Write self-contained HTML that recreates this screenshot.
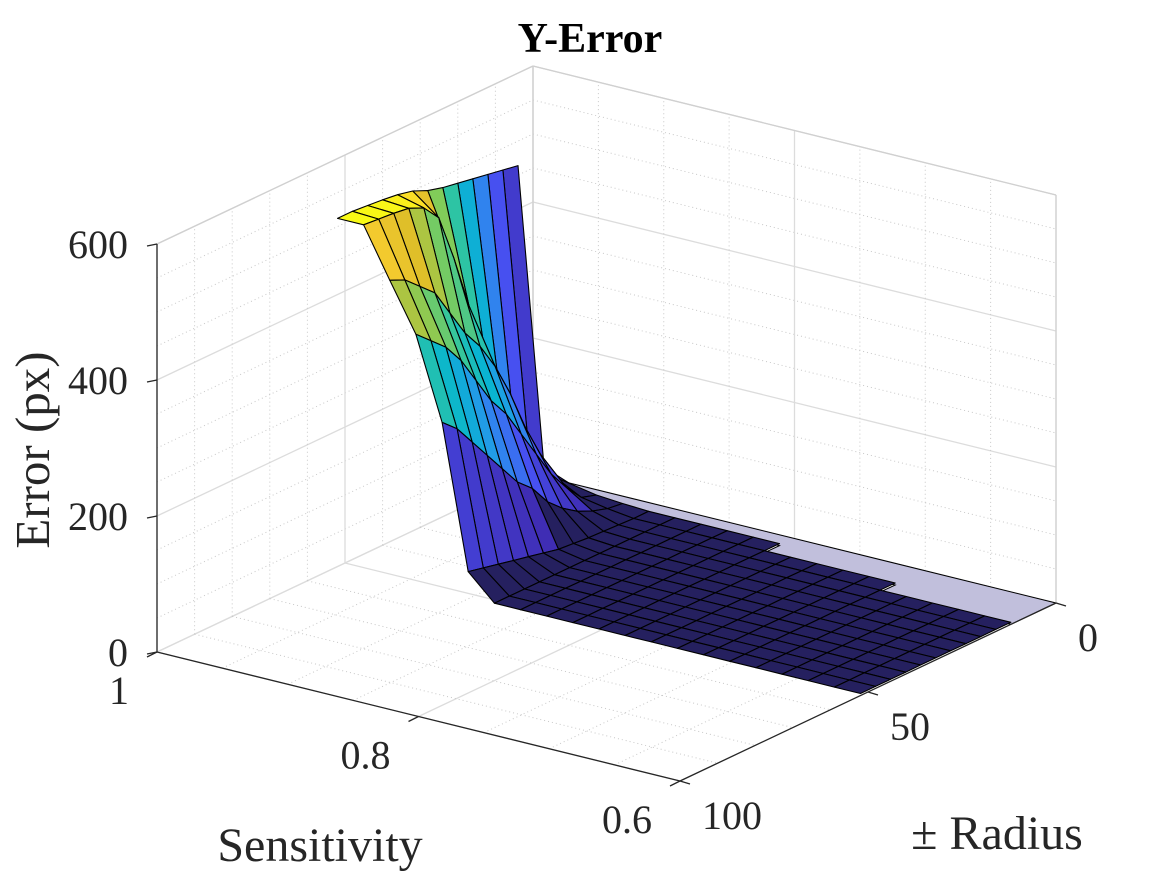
<!DOCTYPE html>
<html><head><meta charset="utf-8"><style>
html,body{margin:0;padding:0;background:#fff;}
svg{display:block;font-family:"Liberation Serif",serif;}
</style></head><body>
<svg id="chart" width="1167" height="875" viewBox="0 0 1167 875" xmlns="http://www.w3.org/2000/svg">
<rect width="1167" height="875" fill="#fff"/>
<g id="grid"></g>
<g id="surf"></g>
<g id="axes"></g>
<text x="590" y="52" text-anchor="middle" font-size="42" font-weight="bold" fill="#000">Y-Error</text>
<text transform="translate(49,450) rotate(-90)" text-anchor="middle" font-size="49" fill="#262626">Error (px)</text>
<text x="320" y="861" text-anchor="middle" font-size="48" fill="#262626">Sensitivity</text>
<text x="997" y="849" text-anchor="middle" font-size="48" fill="#262626">± Radius</text>
</svg>
<script>
const sensValues = [0.60,0.62,0.64,0.66,0.68,0.70,0.72,0.74,0.76,0.78,0.80,0.82,0.84,0.86,0.88,0.90,0.92,0.94,0.96,0.98,1.00];
const radiusValues = [0,4,8,12,16,20,24,28,32,36,40,44,48,52,56];
const n = null;
const errRow060 = [n,n,n,3,3,3,3,3,3,3,3,3,3,3,3];
const errRow062 = [n,n,n,3,3,3,3,3,3,3,3,3,3,3,n];
const errRow064 = [n,n,n,3,3,3,3,3,3,3,3,3,3,3,3];
const errRow066 = [n,n,n,3,3,3,3,3,3,3,3,3,3,3,n];
const errRow068 = [n,n,n,3,3,3,3,3,3,3,3,3,3,3,n];
const errRow070 = [n,n,3,3,3,3,3,3,3,3,3,3,3,3,n];
const errRow072 = [n,n,3,3,3,3,3,3,3,3,3,3,3,3,n];
const errRow074 = [n,n,3,3,3,3,3,3,3,3,3,3,3,3,n];
const errRow076 = [n,n,3,3,3,3,3,3,3,3,3,3,3,3,n];
const errRow078 = [n,n,3,3,3,3,3,3,3,3,3,3,3,3,n];
const errRow080 = [n,3,3,3,3,3,3,3,3,3,3,3,3,3,n];
const errRow082 = [n,3,3,3,3,3,3,3,3,3,3,3,3,3,n];
const errRow084 = [n,3,3,3,3,3,3,3,3,3,3,3,3,3,n];
const errRow086 = [n,3,3,3,3,3,3,3,3,3,3,3,3,3,n];
const errRow088 = [n,3,3,3,3,3,3,3,3,3,3,3,3,3,n];
const errRow090 = [n,3,3,4,5,6,8,10,15,20,25,30,35,40,n];
const errRow092 = [n,5,8,15,25,40,60,90,110,140,170,200,230,250,n];
const errRow094 = [n,8,15,40,70,110,150,190,220,260,300,330,350,370,n];
const errRow096 = [n,15,35,80,130,190,240,280,310,350,390,410,430,440,n];
const errRow098 = [n,30,60,110,180,250,320,400,470,495,505,508,510,512,n];
const errRow100 = [n,464,468,472,476,480,484,490,500,505,508,510,512,512,n];
const errRows = [errRow060,errRow062,errRow064,errRow066,errRow068,errRow070,errRow072,errRow074,errRow076,errRow078,errRow080,errRow082,errRow084,errRow086,errRow088,errRow090,errRow092,errRow094,errRow096,errRow098,errRow100];
const zTicks = [0,200,400,600];
const zTickLabels = ["0","200","400","600"];
const sTicks = [1,0.8,0.6];
const sTickLabels = ["1","0.8","0.6"];
const rTicks = [0,50,100];
const rTickLabels = ["0","50","100"];

const NS = "http://www.w3.org/2000/svg";
const ORG = [157,652];
function P(s,r,z){
  const a=(1-s)/0.4, b=(100-r)/100;
  return [ORG[0]+a*523+b*376, ORG[1]+a*129-b*178-z*0.68];
}
function mk(tag,parent){const e=document.createElementNS(NS,tag);parent.appendChild(e);return e;}
function pts(arr){return arr.map(p=>p[0].toFixed(1)+","+p[1].toFixed(1)).join(" ");}
function line(g,p1,p2,stroke,w,dash){const l=mk("line",g);l.setAttribute("x1",p1[0]);l.setAttribute("y1",p1[1]);l.setAttribute("x2",p2[0]);l.setAttribute("y2",p2[1]);l.setAttribute("stroke",stroke);l.setAttribute("stroke-width",w);if(dash)l.setAttribute("stroke-dasharray",dash);return l;}

const grid=document.getElementById("grid");
const minorC="#c8c8c8", majorC="#dcdcdc";
for(let z=0;z<=600;z+=50){
  const maj=z%200===0;
  const l1=line(grid,P(1,100,z),P(1,0,z),maj?majorC:minorC,maj?1.3:1,maj?null:"1,3");
  
  
  const l2=line(grid,P(1,0,z),P(0.6,0,z),maj?majorC:minorC,maj?1.3:1,maj?null:"1,3");
  
  
}
for(let k=0;k<=8;k++){
  const s=1-k*0.05, maj=(k%4===0);
  const l1=line(grid,P(s,100,0),P(s,0,0),maj?majorC:minorC,maj?1.3:1,maj?null:"1,3");
  
  
  const l2=line(grid,P(s,0,0),P(s,0,600),maj?majorC:minorC,maj?1.3:1,maj?null:"1,3");
  
  
}
for(let r=0;r<=100;r+=10){
  const maj=r%50===0;
  const l1=line(grid,P(1,r,0),P(0.6,r,0),maj?majorC:minorC,maj?1.3:1,maj?null:"1,3");
  
  
  const l2=line(grid,P(1,r,0),P(1,r,600),maj?majorC:minorC,maj?1.3:1,maj?null:"1,3");
  
  
}
[[P(1,100,600),P(1,0,600)],[P(1,0,600),P(0.6,0,600)],[P(1,0,0),P(1,0,600)],[P(0.6,0,0),P(0.6,0,600)]].forEach(e=>{
  const l=line(grid,e[0],e[1],"#d0d0d0",1.3);
  
  
});

const par=[[0.2422,0.1504,0.6603],[0.2810,0.3228,0.9579],[0.1540,0.5902,0.9218],[0.0297,0.7082,0.8163],[0.1938,0.7758,0.6251],[0.5044,0.7993,0.3480],[0.8634,0.7406,0.1596],[0.9892,0.8136,0.1885],[0.9769,0.9839,0.0805]];
function cmap(t){t=Math.max(0,Math.min(1,t))*(par.length-1);const i=Math.min(par.length-2,Math.floor(t)),f=t-i;
  const c=par[i].map((v,k)=>Math.round(255*(v+(par[i+1][k]-v)*f)));return "rgb("+c.join(",")+")";}
const zmax=512;

const surf=document.getElementById("surf");
const lav=mk("polygon",surf);
lav.setAttribute("points",pts([P(0.6,0,0),P(0.98,0,0),P(0.98,4,0),P(0.8,4,0),P(0.8,8,0),P(0.7,8,0),P(0.7,12,0),P(0.6,12,0)]));
lav.setAttribute("fill","#c1bfdc");lav.setAttribute("stroke","#000");lav.setAttribute("stroke-width","1");



const quads=[];
for(let i=0;i<sensValues.length-1;i++){
  for(let j=0;j<radiusValues.length-1;j++){
    const z00=errRows[i][j],z01=errRows[i][j+1],z10=errRows[i+1][j],z11=errRows[i+1][j+1];
    if(z00===null||z01===null||z10===null||z11===null) continue;
    const s0=sensValues[i],s1=sensValues[i+1],r0=radiusValues[j],r1=radiusValues[j+1];
    const depth=(s0+s1)/2/0.4 - (r0+r1)/2/100;
    quads.push({i,j,depth,p:[P(s0,r0,z00),P(s0,r1,z01),P(s1,r1,z11),P(s1,r0,z10)],c:Math.min(z00,z01)});
  }
}
quads.sort((a,b)=>b.depth-a.depth);
quads.forEach(q=>{
  const pg=mk("polygon",surf);
  pg.setAttribute("points",pts(q.p));
  const col=q.c<10?"#25205f":cmap(q.c/zmax);
  pg.setAttribute("fill",col);
  pg.setAttribute("stroke","#000");
  pg.setAttribute("stroke-width","1.1");
  pg.setAttribute("stroke-linejoin","round");
  
  
});

const axes=document.getElementById("axes");
[[P(1,100,0),P(1,100,600)],[P(1,100,0),P(0.6,100,0)],[P(0.6,100,0),P(0.6,0,0)]].forEach(e=>{
  const l=line(axes,e[0],e[1],"#262626",1.3);
  
  
});
function txt(x,y,s,anchor,name){const t=mk("text",axes);t.setAttribute("x",x);t.setAttribute("y",y);t.setAttribute("font-size","40");t.setAttribute("fill","#262626");t.setAttribute("text-anchor",anchor);t.textContent=s;return t;}
zTicks.forEach((z,k)=>{
  const p=P(1,100,z);
  const l=line(axes,p,[p[0]-10,p[1]+2],"#262626",1.3);
  
  
  txt(p[0]-29,p[1]+14,zTickLabels[k],"end","z-tick-label");
});
sTicks.forEach((s,k)=>{
  const p=P(s,100,0);
  const l=line(axes,p,[p[0]-10,p[1]+5],"#262626",1.3);
  
  
  txt(p[0]-28,p[1]+52,sTickLabels[k],"end","sensitivity-tick-label");
});
rTicks.forEach((r,k)=>{
  const p=P(0.6,r,0);
  const l=line(axes,p,[p[0]+10,p[1]+3],"#262626",1.3);
  
  
  txt(p[0]+22,p[1]+48,rTickLabels[k],"start","radius-tick-label");
});
</script>
</body></html>
